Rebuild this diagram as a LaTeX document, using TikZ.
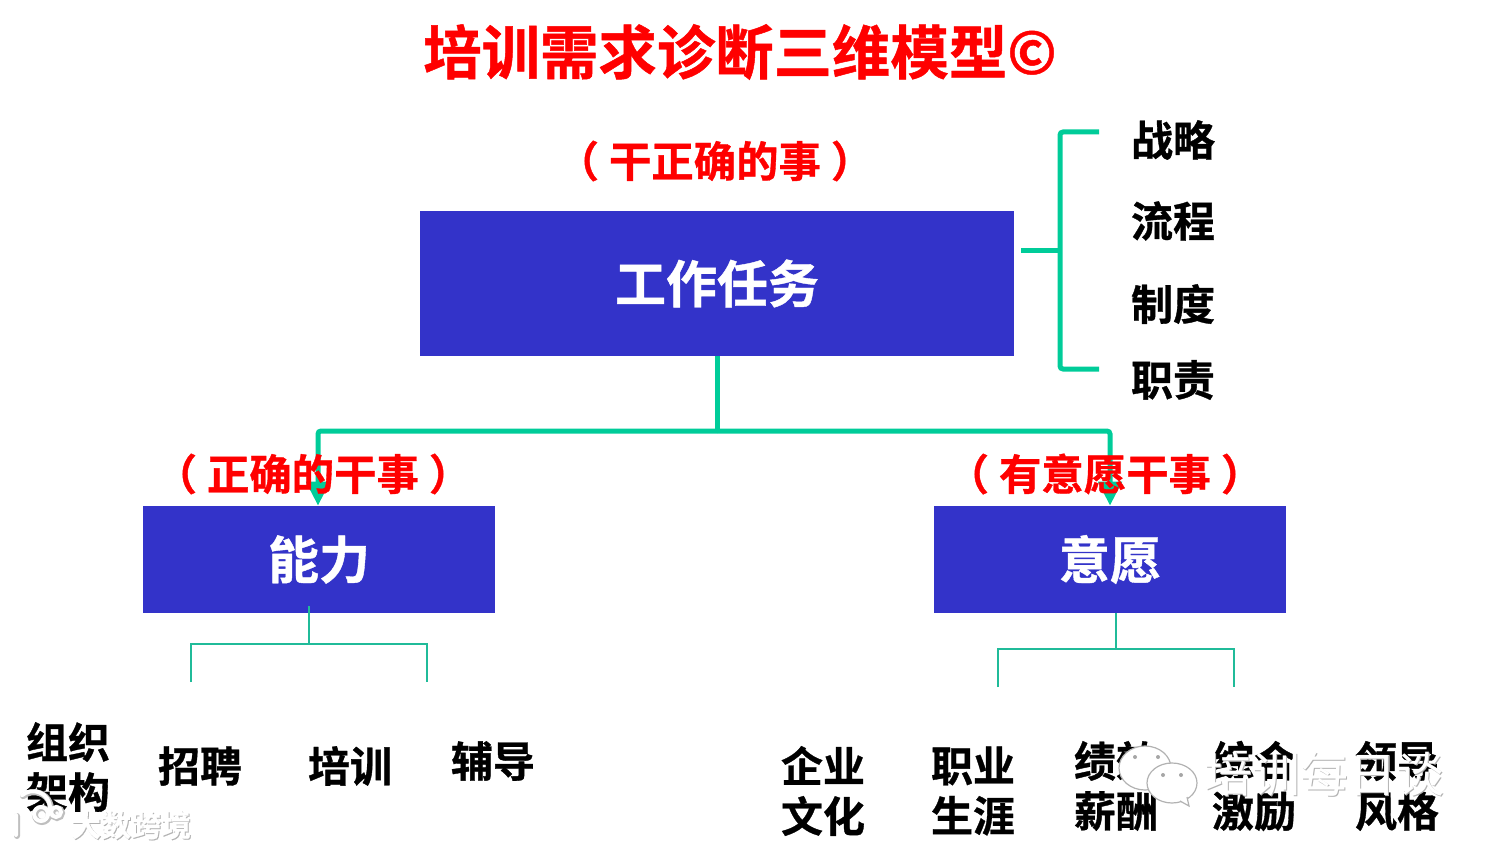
\documentclass[tikz,border=0pt]{standalone}
\usepackage{fontspec}
\setmainfont[BoldFont={Noto Sans CJK SC Bold},BoldFeatures={FakeBold=0.8}]{Noto Sans CJK SC}
\usetikzlibrary{arrows.meta}
\definecolor{boxblue}{RGB}{51,51,201}
\definecolor{linegreen}{RGB}{0,204,153}
\definecolor{thingreen}{RGB}{32,187,153}
\newcommand{\lp}{（\hspace{5pt}}
\newcommand{\rp}{\hspace{5pt}）}
\begin{document}
\begin{tikzpicture}[x=0.5pt,y=-0.5pt,>={Triangle[length=12pt,width=11.5pt]},
		base box/.style={fill=boxblue,text=white,font=\fontsize{25.5}{25.5}\selectfont\bfseries,inner sep=0pt},
		red label/.style={text=red,font=\fontsize{21.2}{21.2}\selectfont\bfseries,inner sep=0pt},
		item label/.style={font=\fontsize{21}{25}\selectfont\bfseries,align=center,inner sep=0pt},
		thick link/.style={draw=linegreen,line width=2.5pt,rounded corners=1.5pt},
		thin link/.style={draw=thingreen,line width=1pt},
		mark shadow/.style={text=black!30,inner sep=0pt},
		mark text/.style={text=white,inner sep=0pt},
		bubble/.style={draw=black!30,fill=white,line width=0.6pt}]
		\useasboundingbox (0,0) rectangle (1493,850);
		% title
		\node[text=red,font=\fontsize{29.2}{29.2}\selectfont\bfseries,inner sep=0pt] (title) at (740,52) {培训需求诊断三维模型©};
		% boxes
		\node[base box,minimum width=297pt,minimum height=72.5pt] (task) at (717,283.5) {工作任务};
		\node[base box,minimum width=176pt,minimum height=53.5pt] (ability) at (319,559.5) {能力};
		\node[base box,minimum width=176pt,minimum height=53.5pt] (will) at (1110,559.5) {意愿};
		% corners
		\coordinate (jtop) at (717,431);
		\coordinate (jleft) at (318,431);
		\coordinate (jright) at (1110,431);
		\coordinate (bstart) at (1021,251);
		\coordinate (bmid) at (1060,251);
		\coordinate (btop) at (1099,132);
		\coordinate (bbot) at (1099,369);
		\coordinate (aout) at (309,606);
		\coordinate (amid) at (309,644);
		\coordinate (aleft) at (191,682);
		\coordinate (aright) at (427,682);
		\coordinate (wout) at (1116,613);
		\coordinate (wmid) at (1116,649);
		\coordinate (wleft) at (998,687);
		\coordinate (wright) at (1234,687);
		% connectors
		\draw[thick link] (task.south) -- (jtop);
		\draw[thick link,->] (jtop) -- (jleft) -- (jleft |- ability.north);
		\draw[thick link,->] (jtop) -- (jright) -- (jright |- will.north);
		\draw[thick link] (bstart) -- (bmid);
		\draw[thick link] (btop) -- (bmid |- btop) -- (bmid |- bbot) -- (bbot);
		\draw[thin link] (aout) -- (amid);
		\draw[thin link] (aleft) -- (aleft |- amid) -- (aright |- amid) -- (aright);
		\draw[thin link] (wout) -- (wmid);
		\draw[thin link] (wleft) -- (wleft |- wmid) -- (wright |- wmid) -- (wright);
		% red labels
		\node[red label] (lbltask) at (715,161) {\lp 干正确的事\rp};
		\node[red label] (lblability) at (313,474) {\lp 正确的干事\rp};
		\node[red label] (lblwill) at (1105,474) {\lp 有意愿干事\rp};
		% right items
		\node[item label] (strategy) at (1173,140) {战略};
		\node[item label] (process) at (1173,221) {流程};
		\node[item label] (rules) at (1173,304) {制度};
		\node[item label] (duty) at (1173,380) {职责};
		% bottom items
		\node[item label] (org) at (68,767) {组织\\架构};
		\node[item label] (hire) at (200,766) {招聘};
		\node[item label] (train) at (350,766) {培训};
		\node[item label] (coach) at (493,761) {辅导};
		\node[item label] (culture) at (823,791) {企业\\文化};
		\node[item label] (career) at (973,791) {职业\\生涯};
		\node[item label] (pay) at (1116,786) {绩效\\薪酬};
		\node[item label] (reward) at (1254,786) {综合\\激励};
		\node[item label] (lead) at (1397,786) {领导\\风格};
		% watermarks
		\draw[black!25,line width=3pt,line cap=round] (17,816) -- (17,836) (50,815) arc (20:-130:17) (42,815) circle (7) (57,813) circle (5);
		\draw[white,line width=2pt,line cap=round] (16,815) -- (16,835) (49,814) arc (20:-130:17) (41,814) circle (7) (56,812) circle (5);
		\node[mark shadow,font=\fontsize{15}{15}\selectfont\bfseries] at (132,826) {大数跨境};
		\node[mark text,font=\fontsize{15}{15}\selectfont\bfseries] (markleft) at (131,825) {大数跨境};
		\draw[bubble] (1145,768) ellipse (26 and 22);
		\draw[bubble] (1172,783) ellipse (25 and 20);
		\draw[bubble] (1180,801) -- (1189,806) -- (1187,797);
		\fill[black!35] (1135,757) circle (2) (1158,757) circle (2) (1163,775) circle (2) (1181,775) circle (2);
		\node[mark shadow,font=\fontsize{24}{24}\selectfont] at (1325,775) {培训每日谈};
		\node[mark text,font=\fontsize{24}{24}\selectfont] (markright) at (1324,774) {培训每日谈};
	\end{tikzpicture}
\end{document}
